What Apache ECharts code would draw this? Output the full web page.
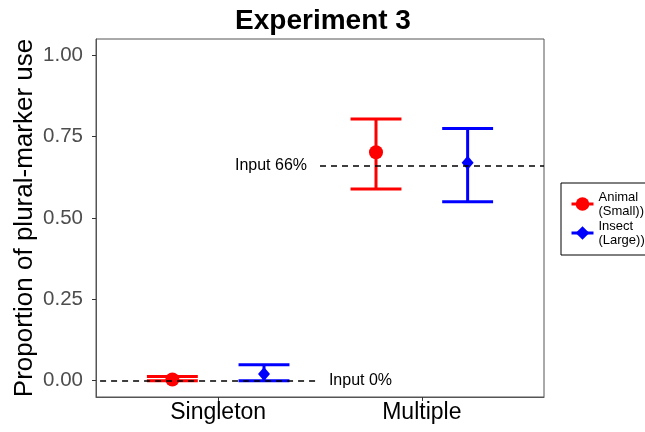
<!DOCTYPE html>
<html>
<head>
<meta charset="utf-8">
<script src="https://cdn.jsdelivr.net/npm/echarts@6/dist/echarts.min.js"></script>
<style>
  html, body { margin: 0; padding: 0; background: #fff; }
  #chart { width: 645px; height: 432px; }
</style>
</head>
<body>
<div id="chart"></div>
<script>
var categories = ['Singleton', 'Multiple'];
var groups = ['Animal\n(Small))', 'Insect\n(Large))'];
var animalMean = [0.004, 0.702];
var animalLow = [0, 0.589];
var animalHigh = [0.013, 0.804];
var insectMean = [0.021, 0.670];
var insectLow = [0, 0.550];
var insectHigh = [0.049, 0.775];
var yTicks = [0, 0.25, 0.5, 0.75, 1];
var inputLines = [
  { label: 'Input 0%', value: 0, from: 0.42, to: 1.48, side: 'end' },
  { label: 'Input 66%', value: 0.66, from: 1.5, to: 2.6, side: 'start' }
];

var dodge = 0.225;
var capHalf = 0.125;

function points(mean, offset) {
  return mean.map(function (v, i) { return [i + 1 + offset, v]; });
}
function bars(low, high, offset) {
  return low.map(function (v, i) { return [i + 1 + offset, v, high[i]]; });
}

function errorBar(color) {
  return function (params, api) {
    var x = api.value(0);
    var lo = api.coord([x, api.value(1)]);
    var hi = api.coord([x, api.value(2)]);
    var half = api.size([capHalf, 0])[0];
    var st = { stroke: color, lineWidth: 3 };
    return {
      type: 'group',
      children: [
        { type: 'line', shape: { x1: lo[0], y1: lo[1], x2: hi[0], y2: hi[1] }, style: st },
        { type: 'line', shape: { x1: lo[0] - half, y1: lo[1], x2: lo[0] + half, y2: lo[1] }, style: st },
        { type: 'line', shape: { x1: hi[0] - half, y1: hi[1], x2: hi[0] + half, y2: hi[1] }, style: st }
      ]
    };
  };
}

var option = {
  animation: false,
  textStyle: { fontFamily: 'Liberation Sans, Arial, sans-serif' },
  title: {
    text: 'Experiment 3',
    left: 318,
    textAlign: 'center',
    top: 2,
    textStyle: { fontSize: 28, fontWeight: 'bold', color: '#000' }
  },
  grid: {
    left: 96, right: 101, top: 39, bottom: 35,
    show: true, borderColor: '#555', borderWidth: 1, backgroundColor: '#fff'
  },
  legend: {
    orient: 'vertical',
    left: 561,
    top: 183,
    padding: [7, 12, 8, 9],
    borderColor: '#000',
    borderWidth: 1,
    itemWidth: 22,
    itemHeight: 17,
    itemGap: 1,
    textStyle: { fontSize: 13, lineHeight: 14, color: '#000' },
    data: [
      { name: groups[0], lineStyle: { width: 3, opacity: 1, color: '#ff0000' } },
      { name: groups[1], lineStyle: { width: 3, opacity: 1, color: '#0000ff' } }
    ]
  },
  xAxis: {
    type: 'value',
    min: 0.4,
    max: 2.6,
    splitLine: { show: false },
    axisLine: { show: true, onZero: false, lineStyle: { color: '#555' } },
    axisTick: { show: true, customValues: [1, 2], length: 4, lineStyle: { color: '#333' } },
    axisLabel: {
      customValues: [1, 2],
      margin: 4,
      fontSize: 23,
      color: '#000',
      formatter: function (v) { return categories[Math.round(v) - 1]; }
    }
  },
  yAxis: {
    type: 'value',
    min: -0.05,
    max: 1.05,
    name: 'Proportion of plural-marker use',
    nameLocation: 'middle',
    nameGap: 58,
    nameMoveOverlap: false,
    nameTextStyle: { fontSize: 26, color: '#000' },
    splitLine: { show: false },
    axisLine: { show: true, onZero: false, lineStyle: { color: '#555' } },
    axisTick: { show: true, customValues: yTicks, length: 4, lineStyle: { color: '#333' } },
    axisLabel: {
      customValues: yTicks,
      margin: 13,
      fontSize: 20.5,
      color: '#4d4d4d',
      formatter: function (v) { return v.toFixed(2); }
    }
  },
  series: [
    {
      type: 'custom',
      name: 'animalBars',
      renderItem: errorBar('#ff0000'),
      data: bars(animalLow, animalHigh, -dodge),
      encode: { x: 0, y: [1, 2] },
      z: 2,
      silent: true
    },
    {
      type: 'custom',
      name: 'insectBars',
      renderItem: errorBar('#0000ff'),
      data: bars(insectLow, insectHigh, dodge),
      encode: { x: 0, y: [1, 2] },
      z: 2,
      silent: true
    },
    {
      type: 'line',
      name: 'inputs',
      data: [],
      z: 3,
      silent: true,
      markLine: {
        silent: true,
        symbol: ['none', 'none'],
        lineStyle: { color: '#000', type: [6, 5], width: 1.5 },
        data: inputLines.map(function (d) {
          return [
            { coord: [d.from, d.value] },
            {
              coord: [d.to, d.value],
              label: { show: true, position: d.side, formatter: d.label, distance: 13, fontSize: 16, color: '#000' }
            }
          ];
        })
      }
    },
    {
      type: 'line',
      name: groups[0],
      data: points(animalMean, -dodge),
      symbol: 'circle',
      symbolSize: 14,
      showSymbol: true,
      itemStyle: { color: '#ff0000' },
      lineStyle: { opacity: 0 },
      z: 4
    },
    {
      type: 'line',
      name: groups[1],
      data: points(insectMean, dodge),
      symbol: 'diamond',
      symbolSize: [12, 14],
      showSymbol: true,
      itemStyle: { color: '#0000ff' },
      lineStyle: { opacity: 0 },
      z: 4
    }
  ]
};

var chart = echarts.init(document.getElementById('chart'));
chart.setOption(option);
window.addEventListener('resize', function () {
  chart.resize();
});
</script>
</body>
</html>
